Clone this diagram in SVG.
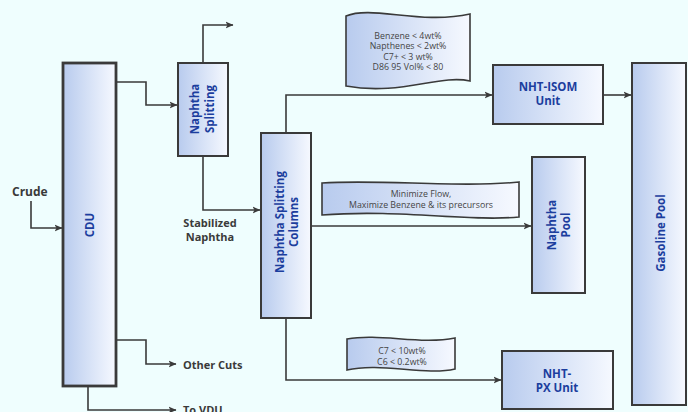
<svg xmlns="http://www.w3.org/2000/svg" width="688" height="412" viewBox="0 0 688 412">
<defs>
<linearGradient id="g" x1="0" y1="0" x2="1" y2="0">
<stop offset="0" stop-color="#b8cbee"/>
<stop offset="1" stop-color="#f6f9ff"/>
</linearGradient>
<marker id="arr" viewBox="0 0 8 8" refX="7.5" refY="4" markerWidth="8" markerHeight="8" markerUnits="userSpaceOnUse" orient="auto">
<path d="M0,0.5 L8,4 L0,7.5 L2,4 Z" fill="#3a3a3a"/>
</marker>
<style>
.box{fill:url(#g);stroke:#3a3a3a;stroke-width:2}
.tape{fill:url(#g);stroke:#3a3a3a;stroke-width:1.6}
.lbl{font-family:"Open Sans","Noto Sans",sans-serif;font-weight:bold;font-size:11.5px;fill:#1c3e9e;text-anchor:middle}
.gl{font-family:"Open Sans","Noto Sans",sans-serif;font-weight:bold;font-size:11px;fill:#3a3a3a}
.sm{font-family:"Open Sans","Noto Sans",sans-serif;font-size:8.8px;fill:#454545;text-anchor:middle}
.ln{fill:none;stroke:#3a3a3a;stroke-width:1.6}
</style>
</defs>
<rect width="688" height="412" fill="#effefe"/>

<g id="connectors">
<path class="ln" d="M31,201 V228 H62" marker-end="url(#arr)"/>
<path class="ln" d="M116,82 H146 V105 H177" marker-end="url(#arr)"/>
<path class="ln" d="M203,63 V25 H233" marker-end="url(#arr)"/>
<path class="ln" d="M203,156 V210 H260" marker-end="url(#arr)"/>
<path class="ln" d="M286,133 V95 H492" marker-end="url(#arr)"/>
<path class="ln" d="M311,226 H531" marker-end="url(#arr)"/>
<path class="ln" d="M286,318 V380 H501" marker-end="url(#arr)"/>
<path class="ln" d="M603,95 H631" marker-end="url(#arr)"/>
<path class="ln" d="M116,340 H146 V364 H176" marker-end="url(#arr)"/>
<path class="ln" d="M88,386 V410 H176" marker-end="url(#arr)"/>
</g>

<g id="crude"><text class="gl" x="12" y="196" style="font-size:12px">Crude</text></g>
<g id="stabilized"><text class="gl" x="210" y="226.5" text-anchor="middle">Stabilized<tspan x="210" y="241">Naphtha</tspan></text></g>
<g id="other-cuts"><text class="gl" x="183" y="369">Other Cuts</text></g>
<g id="to-vdu"><text class="gl" x="183" y="414">To VDU</text></g>

<g id="cdu">
<rect class="box" x="63" y="63" width="53" height="323" style="stroke-width:2.8"/>
<text class="lbl" transform="translate(89.5,225) rotate(-90)" x="0" y="4">CDU</text>
</g>

<g id="naphtha-splitting">
<rect class="box" x="178" y="63" width="50" height="93"/>
<text class="lbl" transform="translate(203,109) rotate(-90)"><tspan x="0" y="-4">Naphtha</tspan><tspan x="0" y="11">Splitting</tspan></text>
</g>

<g id="naphtha-splitting-columns">
<rect class="box" x="261" y="133" width="50" height="185"/>
<text class="lbl" transform="translate(286,222) rotate(-90)"><tspan x="0" y="-2.5">Naphtha Splitting</tspan><tspan x="0" y="11.5">Columns</tspan></text>
</g>

<g id="spec-isom">
<path class="tape" d="M346,16 C372,5 420,25 470,14 L470,81 C440,74 400,96 346,86 Z"/>
<text class="sm"><tspan x="408" y="38.5">Benzene &lt; 4wt%</tspan><tspan x="408" y="49">Napthenes &lt; 2wt%</tspan><tspan x="408" y="59.5">C7+ &lt; 3 wt%</tspan><tspan x="408" y="70">D86 95 Vol% &lt; 80</tspan></text>
</g>

<g id="spec-pool">
<path class="tape" d="M322,183 C380,179 460,188 519,182 L519,217 C470,222 400,209 322,215 Z"/>
<text class="sm"><tspan x="421" y="196.5">Minimize Flow,</tspan><tspan x="421" y="207.5">Maximize Benzene &amp; its precursors</tspan></text>
</g>

<g id="spec-px">
<path class="tape" d="M347,339 C380,333 420,345 455,338 L455,369 C425,376 380,362 347,370 Z"/>
<text class="sm"><tspan x="402" y="353.5">C7 &lt; 10wt%</tspan><tspan x="402" y="364.5">C6 &lt; 0.2wt%</tspan></text>
</g>

<g id="nht-isom">
<rect class="box" x="493" y="65" width="110" height="59"/>
<text class="lbl"><tspan x="548" y="91">NHT-ISOM</tspan><tspan x="548" y="104.5">Unit</tspan></text>
</g>

<g id="naphtha-pool">
<rect class="box" x="532" y="157" width="53" height="136"/>
<text class="lbl" transform="translate(558.5,225) rotate(-90)"><tspan x="0" y="-2.5">Naphtha</tspan><tspan x="0" y="11.5">Pool</tspan></text>
</g>

<g id="nht-px">
<rect class="box" x="502" y="351" width="111" height="58"/>
<text class="lbl"><tspan x="557" y="378">NHT-</tspan><tspan x="557" y="392">PX Unit</tspan></text>
</g>

<g id="gasoline-pool">
<rect class="box" x="632" y="63" width="54" height="342"/>
<text class="lbl" transform="translate(659,233) rotate(-90)" x="0" y="5.5">Gasoline Pool</text>
</g>
</svg>
